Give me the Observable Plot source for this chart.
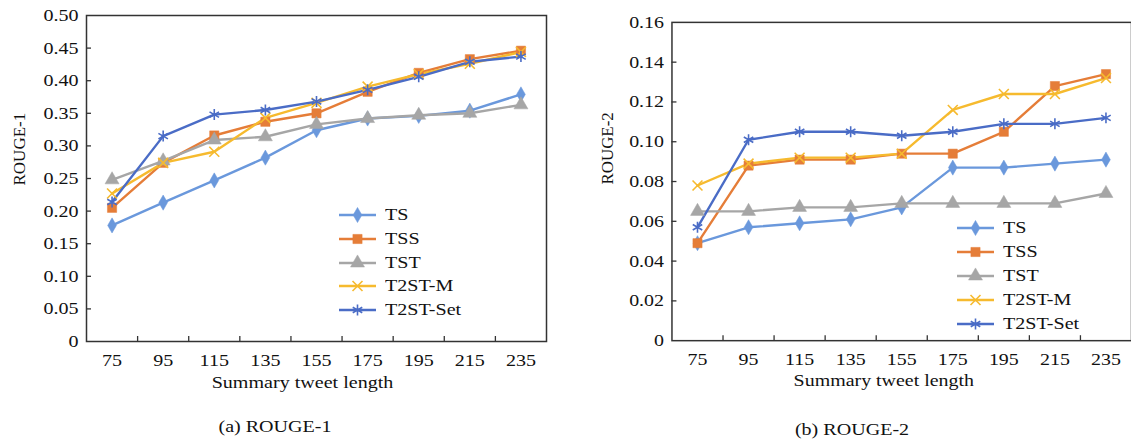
<!DOCTYPE html>
<html>
<head>
<meta charset="utf-8">
<script src="https://cdn.jsdelivr.net/npm/d3@7"></script>
<script src="https://cdn.jsdelivr.net/npm/@observablehq/plot@0.6"></script>
<style>
  html, body { margin: 0; padding: 0; background: #fff; overflow: hidden; width: 1131px; height: 439px; }
  #root { position: relative; width: 1131px; height: 439px; font-family: "Liberation Serif", "Times New Roman", serif; color: #111; }
  #root svg, #root svg text { font-family: "Liberation Serif", "Times New Roman", serif !important; }
  #root svg text { font-size: 17px !important; }
  .panel { position: absolute; top: 0; }
  .legend { position: absolute; font-size: 17px; font-family: "Liberation Serif", serif; }
  .legend .row { position: absolute; left: 0; height: 20px; display: flex; align-items: center; white-space: nowrap; }
  .legend .row span { display: inline-block; transform: scaleX(1.18); transform-origin: left center; }
  .legend svg { display: block; }
  .caption { position: absolute; font-size: 17px; transform: translate(-50%, -50%) scaleX(1.18); white-space: nowrap; font-family: "Liberation Serif", serif; }
</style>
</head>
<body>
<div id="root"></div>
<script>
// ---- data ----
const lengths = [75, 95, 115, 135, 155, 175, 195, 215, 235];
const seriesNames = ["TS", "TSS", "TST", "T2ST-M", "T2ST-Set"];
const seriesColors = ["#6A98DC", "#E57D38", "#A6A6A6", "#F6BA2E", "#4A6CC6"];
const seriesSymbols = ["diamond", "square", "triangle", "times", "asterisk"];

// ROUGE-1
const r1_TS      = [0.178, 0.213, 0.247, 0.282, 0.324, 0.342, 0.346, 0.354, 0.379];
const r1_TSS     = [0.205, 0.274, 0.316, 0.337, 0.350, 0.383, 0.412, 0.433, 0.446];
const r1_TST     = [0.248, 0.277, 0.309, 0.314, 0.333, 0.342, 0.347, 0.350, 0.363];
const r1_T2STM   = [0.227, 0.274, 0.291, 0.343, 0.366, 0.391, 0.410, 0.426, 0.444];
const r1_T2STSet = [0.214, 0.315, 0.348, 0.355, 0.368, 0.386, 0.406, 0.429, 0.437];

// ROUGE-2
const r2_TS      = [0.049, 0.057, 0.059, 0.061, 0.067, 0.087, 0.087, 0.089, 0.091];
const r2_TSS     = [0.049, 0.088, 0.091, 0.091, 0.094, 0.094, 0.105, 0.128, 0.134];
const r2_TST     = [0.065, 0.065, 0.067, 0.067, 0.069, 0.069, 0.069, 0.069, 0.074];
const r2_T2STM   = [0.078, 0.089, 0.092, 0.092, 0.094, 0.116, 0.124, 0.124, 0.132];
const r2_T2STSet = [0.057, 0.101, 0.105, 0.105, 0.103, 0.105, 0.109, 0.109, 0.112];

const r1Ticks = [0, 0.05, 0.10, 0.15, 0.20, 0.25, 0.30, 0.35, 0.40, 0.45, 0.50];
const r2Ticks = [0, 0.02, 0.04, 0.06, 0.08, 0.10, 0.12, 0.14, 0.16];
const xInnerTicks = [85, 105, 125, 145, 165, 185, 205, 225];

const xLabel = "Summary tweet length";
const textStretch = 1.18;

function rows(list) {
  const out = [];
  list.forEach((vals, si) => vals.forEach((v, i) => out.push({series: seriesNames[si], len: lengths[i], value: v})));
  return out;
}

const symbolRadius = {diamond: 4.6, square: 5.2, triangle: 5.2, times: 4.6, asterisk: 5.2};
const filled = {diamond: true, square: true, triangle: true, times: false, asterisk: false};

function makeChart(opt) {
  const data = rows(opt.values);
  const plotW = opt.width - opt.marginLeft - opt.marginRight;
  const plotH = opt.height - opt.marginTop - opt.marginBottom;
  const marks = [
    Plot.frame({stroke: "#333", strokeWidth: 1.5}),
    Plot.tickX(xInnerTicks, {x: d => d, insetTop: plotH - 5, stroke: "#333", strokeWidth: 1.3}),
    Plot.tickY(opt.yTicks.slice(1, -1), {y: d => d, insetRight: plotW - 5, stroke: "#333", strokeWidth: 1.3}),
    Plot.axisX(lengths, {tickSize: 0, tickPadding: 12, tickFormat: d => String(d), label: null, fontSize: 17}),
    Plot.axisY(opt.yTicks, {tickSize: 0, tickPadding: 8, tickFormat: d => d === 0 ? "0" : d.toFixed(2), label: null, fontSize: 17}),
  ];
  seriesNames.forEach((s, si) => {
    const sd = data.filter(d => d.series === s);
    marks.push(Plot.line(sd, {x: "len", y: "value", stroke: seriesColors[si], strokeWidth: 2.4}));
  });
  seriesNames.forEach((s, si) => {
    const sd = data.filter(d => d.series === s);
    const sym = seriesSymbols[si];
    marks.push(Plot.dot(sd, {
      x: "len", y: "value", symbol: sym, r: symbolRadius[sym],
      fill: filled[sym] ? seriesColors[si] : "none",
      stroke: seriesColors[si], strokeWidth: filled[sym] ? 0.5 : 1.6
    }));
  });
  marks.push(Plot.text([xLabel], {frameAnchor: "bottom", dy: opt.xLabelDy, dx: opt.xLabelDx, text: d => d, lineAnchor: "middle", fontSize: 17, fill: "#111"}));
  marks.push(Plot.text([opt.yLabel], {frameAnchor: "left", dx: opt.yLabelDx, dy: opt.yLabelDy, rotate: -90, text: d => d, lineAnchor: "middle", fontSize: 17, fill: "#111"}));

  return Plot.plot({
    width: opt.width, height: opt.height,
    marginLeft: opt.marginLeft, marginRight: opt.marginRight,
    marginTop: opt.marginTop, marginBottom: opt.marginBottom,
    style: {fontFamily: "Liberation Serif, serif", fontSize: "17px", color: "#111", background: "transparent", overflow: "visible"},
    x: {domain: [65, 245], axis: null},
    y: {domain: [0, opt.yTicks[opt.yTicks.length - 1]], axis: null},
    marks
  });
}

// widen glyphs horizontally to match the reference's proportions
function stretchTexts(svg) {
  svg.querySelectorAll("text").forEach(t => {
    const tr = (t.getAttribute("transform") || "") + (t.parentNode.getAttribute && (t.parentNode.getAttribute("transform") || ""));
    if (/rotate/.test(tr)) return;
    const L = t.getComputedTextLength();
    if (L > 0) {
      t.setAttribute("textLength", (L * textStretch).toFixed(2));
      t.setAttribute("lengthAdjust", "spacingAndGlyphs");
    }
  });
}

function makeLegend(left, top, step) {
  const div = document.createElement("div");
  div.className = "legend";
  div.style.left = left + "px";
  div.style.top = top + "px";
  seriesNames.forEach((s, si) => {
    const row = document.createElement("div");
    row.className = "row";
    row.style.top = (si * step - 10) + "px";
    const svg = d3.create("svg").attr("width", 46).attr("height", 20);
    svg.append("line").attr("x1", 0).attr("x2", 37).attr("y1", 10).attr("y2", 10)
      .attr("stroke", seriesColors[si]).attr("stroke-width", 2.4);
    const sym = seriesSymbols[si];
    const symType = {diamond: d3.symbolDiamond, square: d3.symbolSquare, triangle: d3.symbolTriangle, times: d3.symbolTimes, asterisk: d3.symbolAsterisk}[sym];
    const r = symbolRadius[sym];
    svg.append("path").attr("d", d3.symbol(symType, r * r * Math.PI)())
      .attr("transform", "translate(18.5,10)")
      .attr("fill", filled[sym] ? seriesColors[si] : "none")
      .attr("stroke", seriesColors[si]).attr("stroke-width", filled[sym] ? 0.5 : 1.6);
    row.appendChild(svg.node());
    const t = document.createElement("span");
    t.textContent = s;
    row.appendChild(t);
    div.appendChild(row);
  });
  return div;
}

const root = document.getElementById("root");

const p1 = document.createElement("div");
p1.className = "panel"; p1.style.left = "0px";
const svg1 = makeChart({
  values: [r1_TS, r1_TSS, r1_TST, r1_T2STM, r1_T2STSet],
  yTicks: r1Ticks, yLabel: "ROUGE-1",
  width: 565, height: 395, marginLeft: 86, marginRight: 19, marginTop: 15, marginBottom: 54,
  xLabelDy: 41, xLabelDx: -14, yLabelDx: -67, yLabelDy: 7
});
p1.appendChild(svg1);
root.appendChild(p1);

const p2 = document.createElement("div");
p2.className = "panel"; p2.style.left = "572px";
const svg2 = makeChart({
  values: [r2_TS, r2_TSS, r2_TST, r2_T2STM, r2_T2STSet],
  yTicks: r2Ticks, yLabel: "ROUGE-2",
  width: 562, height: 395, marginLeft: 100, marginRight: 0, marginTop: 22, marginBottom: 53,
  xLabelDy: 40, xLabelDx: -18, yLabelDx: -65, yLabelDy: 3
});
p2.appendChild(svg2);
root.appendChild(p2);

stretchTexts(svg1);
stretchTexts(svg2);

root.appendChild(makeLegend(339, 215, 23.8));
root.appendChild(makeLegend(957, 228, 24));

const c1 = document.createElement("div");
c1.className = "caption"; c1.style.left = "275px"; c1.style.top = "427px"; c1.textContent = "(a) ROUGE-1";
root.appendChild(c1);
const c2 = document.createElement("div");
c2.className = "caption"; c2.style.left = "852px"; c2.style.top = "430px"; c2.textContent = "(b) ROUGE-2";
root.appendChild(c2);
</script>
</body>
</html>
